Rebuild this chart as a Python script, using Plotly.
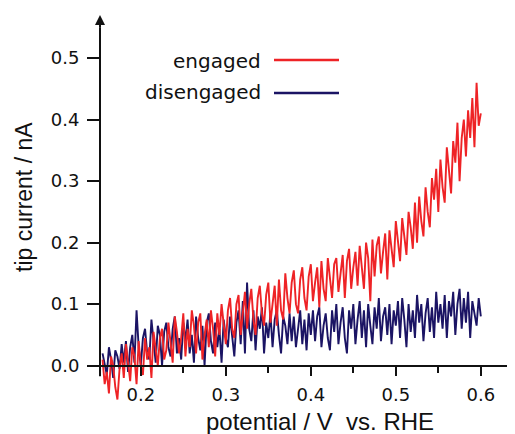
import numpy as np
import plotly.graph_objects as go

# ---------------- data ----------------
engaged = [
    0.01, -0.03, -0.01, -0.045, 0.015, 0.0, -0.035, -0.055, -0.005, 0.02,
    -0.02, 0.035, 0.005, -0.025, 0.03, 0.015, -0.03, 0.04, 0.0, -0.015,
    0.045, 0.01, 0.03, -0.02, 0.055, 0.03, 0.0, 0.045, 0.06, 0.01,
    0.025, 0.07, 0.04, 0.005, 0.08, 0.055, 0.02, 0.045, 0.085, 0.015,
    0.06, 0.03, 0.09, 0.065, 0.02, 0.07, 0.085, 0.01, 0.05, 0.075,
    0.03, 0.09, 0.06, 0.015, 0.085, 0.05, 0.10, 0.065, 0.035, 0.09,
    0.11, 0.06, 0.045, 0.10, 0.115, 0.05, 0.08, 0.12, 0.06, 0.10,
    0.125, 0.075, 0.05, 0.11, 0.13, 0.085, 0.065, 0.115, 0.135, 0.07,
    0.10, 0.13, 0.065, 0.14, 0.09, 0.075, 0.15, 0.11, 0.085, 0.135,
    0.155, 0.10, 0.085, 0.14, 0.16, 0.11, 0.09, 0.145, 0.165, 0.105,
    0.135, 0.16, 0.095, 0.17, 0.125, 0.105, 0.175, 0.14, 0.11, 0.165,
    0.175, 0.12, 0.15, 0.18, 0.11, 0.17, 0.19, 0.125, 0.16, 0.185,
    0.13, 0.195, 0.16, 0.125, 0.20, 0.175, 0.105, 0.205, 0.145, 0.195,
    0.21, 0.15, 0.185, 0.215, 0.14, 0.22, 0.19, 0.16, 0.235, 0.20,
    0.17, 0.24, 0.21, 0.18, 0.25, 0.225, 0.19, 0.265, 0.20, 0.275,
    0.235, 0.21, 0.29, 0.25, 0.225, 0.305, 0.27, 0.32, 0.25, 0.335,
    0.29, 0.265, 0.355, 0.31, 0.28, 0.365, 0.33, 0.395, 0.30, 0.37,
    0.40, 0.34, 0.415, 0.37, 0.435, 0.355, 0.46, 0.39, 0.41,
]
disengaged = [
    0.02, 0.0, -0.015, 0.03, 0.01, -0.02, 0.025, 0.015, -0.005, 0.035,
    0.005, 0.04, -0.01, 0.03, 0.05, 0.005, 0.09, 0.03, 0.0, 0.045,
    0.06, 0.02, 0.01, 0.075, 0.04, 0.005, 0.065, 0.05, 0.0, 0.055,
    0.07, 0.03, 0.015, 0.06, 0.08, 0.02, 0.045, 0.01, 0.07, 0.04,
    0.075, 0.02, 0.05, 0.005, 0.08, 0.045, 0.025, 0.065, 0.0, 0.07,
    0.085, 0.04, 0.02, 0.07, 0.03, 0.06, 0.005, 0.075, 0.045, 0.03,
    0.08, 0.05, 0.015, 0.07, 0.09, 0.035, 0.105, 0.02, 0.135, 0.06,
    0.04, 0.09, 0.025, 0.08, 0.06, 0.095, 0.02, 0.07, 0.045, 0.085,
    0.03, 0.075, 0.09, 0.05, 0.02, 0.08, 0.065, 0.035, 0.085, 0.04,
    0.08, 0.03, 0.06, 0.09, 0.035, 0.075, 0.025, 0.085, 0.05, 0.09,
    0.04, 0.08, 0.095, 0.03, 0.065, 0.085, 0.045, 0.025, 0.09, 0.055,
    0.10, 0.035, 0.07, 0.095, 0.045, 0.02, 0.09, 0.06, 0.10, 0.035,
    0.075, 0.105, 0.045, 0.09, 0.03, 0.10, 0.065, 0.035, 0.095, 0.06,
    0.11, 0.04, 0.08, 0.095, 0.05, 0.10, 0.035, 0.09, 0.065, 0.105,
    0.045, 0.11, 0.075, 0.03, 0.10, 0.055, 0.09, 0.045, 0.115, 0.07,
    0.10, 0.04, 0.085, 0.11, 0.055, 0.095, 0.045, 0.12, 0.07, 0.10,
    0.06, 0.115, 0.045, 0.105, 0.08, 0.12, 0.05, 0.10, 0.125, 0.06,
    0.11, 0.07, 0.12, 0.045, 0.105, 0.085, 0.065, 0.11, 0.08,
]
potential_start, potential_end = 0.155, 0.600
potential = np.linspace(potential_start, potential_end, len(engaged))

x_tickvals = [0.2, 0.3, 0.4, 0.5, 0.6]
y_tickvals = [0.0, 0.1, 0.2, 0.3, 0.4, 0.5]
legend_labels = ["engaged", "disengaged"]
x_title = "potential / V  vs. RHE"
y_title = "tip current / nA"

RED = "#EE2326"
NAVY = "#1B1464"

# ---------------- layout geometry ----------------
OFF = 8                      # page body margin of the html page
W, H = 515 - OFF, 434 - OFF
ML, MR, MT, MB = 100 - OFF, 0, 15 - OFF, 28
XR = [0.152, 0.6402]
YR = [-0.0655, 0.57]
plot_h = H - MT - MB
plot_w = W - ML - MR


def py(p):  # reference page pixel y -> paper y
    return (H - MB - (p - OFF)) / plot_h


def px(p):  # reference page pixel x -> paper x
    return ((p - OFF) - ML) / plot_w


fig = go.Figure()
fig.add_trace(go.Scatter(x=potential, y=disengaged, mode="lines",
                         line=dict(color=NAVY, width=1.9), showlegend=False))
fig.add_trace(go.Scatter(x=potential, y=engaged, mode="lines",
                         line=dict(color=RED, width=1.9), showlegend=False))

tick_font = dict(family="DejaVu Sans", size=18, color="#111")

fig.update_layout(
    width=W, height=H,
    margin=dict(l=ML, r=MR, t=MT, b=MB),
    plot_bgcolor="white", paper_bgcolor="white",
    xaxis=dict(range=XR, showgrid=False, zeroline=False,
               showline=True, linecolor="#111", linewidth=2,
               anchor="free", position=(0 - YR[0]) / (YR[1] - YR[0]),
               tickvals=x_tickvals, tickformat=".1f",
               ticks="outside", ticklen=9, tickwidth=2, tickcolor="#111",
               ticklabelstandoff=4,
               minor=dict(dtick=0.05, tick0=0.15, ticks="outside", ticklen=6,
                          tickwidth=2, tickcolor="#111"),
               tickfont=tick_font),
    yaxis=dict(range=YR, showgrid=False, zeroline=False, showline=False,
               tickvals=y_tickvals, tickformat=".1f",
               ticks="outside", ticklen=12, tickwidth=2, tickcolor="#111",
               ticklabelstandoff=4,
               tickfont=tick_font),
)

# y axis line with arrow
fig.add_shape(type="line", xref="paper", yref="y", x0=0, x1=0, y0=-0.017, y1=0.55,
              line=dict(color="#111", width=2))
fig.add_annotation(xref="paper", yref="y", x=0, y=YR[1], ax=0, ay=14,
                   axref="pixel", ayref="pixel", showarrow=True,
                   arrowhead=2, arrowsize=1, arrowwidth=2, arrowcolor="#111", text="")

# axis titles
title_font = dict(family="Liberation Sans, Arial", size=24, color="#111")
fig.add_annotation(xref="paper", yref="paper", x=px(320), y=py(421), text=x_title,
                   showarrow=False, font=title_font, xanchor="center", yanchor="middle")
fig.add_annotation(xref="paper", yref="paper", x=px(24), y=py(197), text=y_title,
                   textangle=-90, showarrow=False,
                   font=dict(family="Liberation Sans, Arial", size=23, color="#111"),
                   xanchor="center", yanchor="middle")

# legend (text right-aligned, line after text)
leg_font = dict(family="DejaVu Sans", size=20, color="#111")
for label, color, ycen, yline in [(legend_labels[0], RED, 61, 60),
                                  (legend_labels[1], NAVY, 92, 93)]:
    fig.add_annotation(xref="paper", yref="paper", x=px(263), y=py(ycen), text=label,
                       showarrow=False, font=leg_font, xanchor="right", yanchor="middle")
    fig.add_shape(type="line", xref="paper", yref="paper",
                  x0=px(274), x1=px(339), y0=py(yline), y1=py(yline),
                  line=dict(color=color, width=2.5))

fig.write_html("out.html")
